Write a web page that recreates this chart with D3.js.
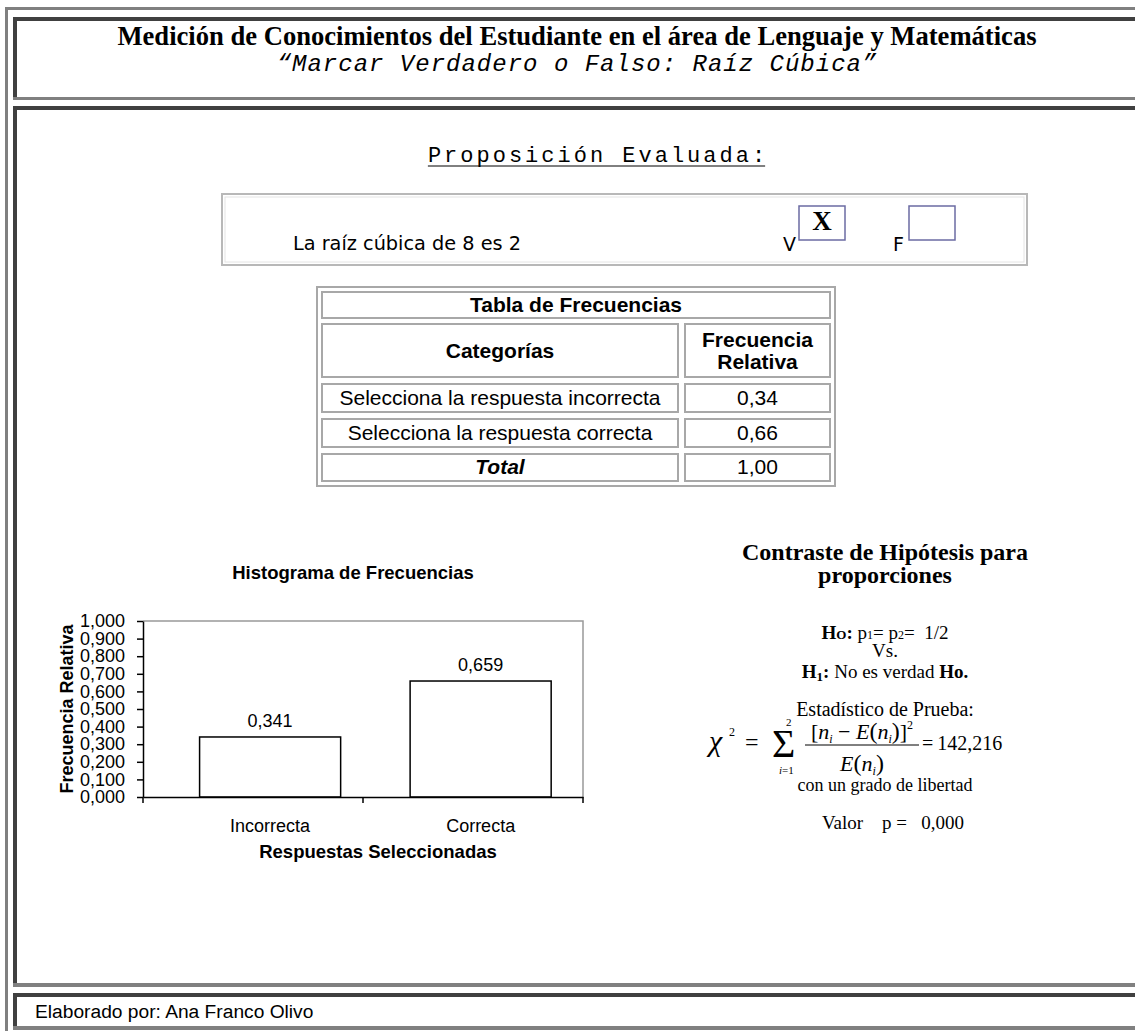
<!DOCTYPE html>
<html lang="es">
<head>
<meta charset="utf-8">
<title>Raíz Cúbica</title>
<script src="https://cdn.jsdelivr.net/npm/d3@7"></script>
<style>
  body { margin: 0; background: #fff; }
  svg { display: block; }
</style>
</head>
<body>
<svg id="page"></svg>
<script>
// datos del grafico
const categorias = ["Incorrecta", "Correcta"];
const frecuencias = [0.341, 0.659];
const yTicks = [0, 0.1, 0.2, 0.3, 0.4, 0.5, 0.6, 0.7, 0.8, 0.9, 1.0];

// tabla de frecuencias
const tablaCategorias = ["Selecciona la respuesta incorrecta", "Selecciona la respuesta correcta"];
const tablaTotal = 1.00;

// contraste
const estadistico = "142,216";
const valorP = "0,000";

const serif = "'Liberation Serif', 'Times New Roman', serif";
const sans = "'Liberation Sans', Arial, sans-serif";
const mono = "'Liberation Mono', 'Courier New', monospace";
const verdana = "'DejaVu Sans', Verdana, sans-serif";

const es = d3.formatLocale({decimal: ",", thousands: ".", grouping: [3], currency: ["", ""]});
const fmt3 = es.format(".3f");
const fmt2 = es.format(".2f");

var svgWidth = 1135;
var svgHeight = 1031;

var svg = d3.select("#page")
    .attr("width", svgWidth)
    .attr("height", svgHeight);

// ---- marcos de la pagina ----
var dark = "#404040", grey = "#808080";
function hline(x1, x2, y, w, c) {
    svg.append("rect").attr("x", x1).attr("y", y).attr("width", x2 - x1).attr("height", w).attr("fill", c);
}
function vline(x, y1, y2, w, c) {
    svg.append("rect").attr("x", x).attr("y", y1).attr("width", w).attr("height", y2 - y1).attr("fill", c);
}
hline(5, svgWidth, 7, 3, grey);
vline(5, 7, svgHeight, 3, grey);
// celda titulo
hline(13, svgWidth, 17, 4, dark);
vline(13, 17, 100, 4, dark);
hline(13, svgWidth, 97, 3, grey);
// celda principal
hline(13, svgWidth, 106, 4, dark);
vline(13, 106, 986, 4, dark);
hline(13, svgWidth, 983, 4, grey);
// celda pie
hline(13, svgWidth, 993, 4, dark);
vline(13, 993, 1030, 4, dark);
hline(13, svgWidth, 1026, 4, grey);

// ---- encabezado ----
svg.append("text")
    .attr("x", 577).attr("y", 45)
    .attr("text-anchor", "middle")
    .style("font-family", serif).style("font-weight", "bold").style("font-size", "26.6px")
    .text("Medición de Conocimientos del Estudiante en el área de Lenguaje y Matemáticas");

svg.append("text")
    .attr("x", 577).attr("y", 71)
    .attr("text-anchor", "middle")
    .style("font-family", mono).style("font-style", "italic").style("font-size", "24px")
    .style("letter-spacing", "1px")
    .text("\u201CMarcar Verdadero o Falso: Raíz Cúbica\u201D");

// ---- proposicion ----
var prop = svg.append("text")
    .attr("x", 598).attr("y", 162)
    .attr("text-anchor", "middle")
    .style("font-family", mono).style("font-size", "22px")
    .style("letter-spacing", "3px")
    .text("Proposición Evaluada:");
var pb = prop.node().getBBox();
svg.append("line")
    .attr("x1", pb.x).attr("x2", pb.x + pb.width - 3)
    .attr("y1", 166).attr("y2", 166)
    .attr("stroke", "#000").attr("stroke-width", 1);

svg.append("rect")
    .attr("x", 222).attr("y", 194).attr("width", 805).attr("height", 71)
    .attr("fill", "none").attr("stroke", "#b8b8b8").attr("stroke-width", 2);
svg.append("rect")
    .attr("x", 225).attr("y", 197).attr("width", 799).attr("height", 65)
    .attr("fill", "none").attr("stroke", "#e4e4e4").attr("stroke-width", 1);

svg.append("text")
    .attr("x", 293).attr("y", 250)
    .style("font-family", verdana).style("font-size", "19.3px")
    .text("La raíz cúbica de 8 es 2");

var opciones = [{l: "V", x: 783, marca: "X"}, {l: "F", x: 893, marca: ""}];
opciones.forEach(function(o) {
    svg.append("text")
        .attr("x", o.x).attr("y", 251)
        .style("font-family", verdana).style("font-size", "19px")
        .text(o.l);
    svg.append("rect")
        .attr("x", o.x + 16).attr("y", 206).attr("width", 46).attr("height", 34)
        .attr("fill", "none").attr("stroke", "#6b6ba3").attr("stroke-width", 1.5);
    svg.append("text")
        .attr("x", o.x + 39).attr("y", 230)
        .attr("text-anchor", "middle")
        .style("font-family", serif).style("font-weight", "bold").style("font-size", "27px")
        .text(o.marca);
});

// ---- tabla de frecuencias ----
var tx = 316, ty = 286, tw = 520, th = 201;
svg.append("rect")
    .attr("x", tx + 1).attr("y", ty + 1).attr("width", tw - 2).attr("height", th - 2)
    .attr("fill", "none").attr("stroke", "#a8a8a8").attr("stroke-width", 2);

function celda(x, y, w, h) {
    svg.append("rect")
        .attr("x", x + 1).attr("y", y + 1).attr("width", w - 2).attr("height", h - 2)
        .attr("fill", "none").attr("stroke", "#a8a8a8").attr("stroke-width", 2);
}
var c1x = 321, c1w = 358, c2x = 684, c2w = 147;
var filas = [
    {y: 291, h: 28},
    {y: 323, h: 55},
    {y: 383, h: 30},
    {y: 418, h: 30},
    {y: 453, h: 29}
];
celda(c1x, filas[0].y, c2x + c2w - c1x, filas[0].h);
for (var i = 1; i < filas.length; i++) {
    celda(c1x, filas[i].y, c1w, filas[i].h);
    celda(c2x, filas[i].y, c2w, filas[i].h);
}
function celdaTexto(x, y, t, bold, italic) {
    svg.append("text")
        .attr("x", x).attr("y", y)
        .attr("text-anchor", "middle")
        .style("font-family", sans).style("font-size", "21px")
        .style("font-weight", bold ? "bold" : "normal")
        .style("font-style", italic ? "italic" : "normal")
        .text(t);
}
var m1 = c1x + c1w / 2, m2 = c2x + c2w / 2;
celdaTexto((c1x + c2x + c2w) / 2, filas[0].y + 21, "Tabla de Frecuencias", true);
celdaTexto(m1, filas[1].y + 35, "Categorías", true);
celdaTexto(m2, filas[1].y + 24, "Frecuencia", true);
celdaTexto(m2, filas[1].y + 46, "Relativa", true);
tablaCategorias.forEach(function(c, k) {
    celdaTexto(m1, filas[2 + k].y + 22, c, false);
    celdaTexto(m2, filas[2 + k].y + 22, fmt2(frecuencias[k]), false);
});
celdaTexto(m1, filas[4].y + 21, "Total", true, true);
celdaTexto(m2, filas[4].y + 21, fmt2(tablaTotal), false);

// ---- histograma ----
var plot = {left: 143, right: 583, top: 621, bottom: 797};

var x = d3.scaleBand()
    .domain(categorias)
    .range([plot.left, plot.right])
    .paddingInner(0.33)
    .paddingOuter(0.21)
    .align(0.64);

var y = d3.scaleLinear()
    .domain([0, 1])
    .range([plot.bottom, plot.top]);

var g = svg.append("g");

g.append("text")
    .attr("x", 353).attr("y", 579)
    .attr("text-anchor", "middle")
    .style("font-family", sans).style("font-weight", "bold").style("font-size", "18.5px")
    .text("Histograma de Frecuencias");

// borde gris superior y derecho
g.append("path")
    .attr("d", "M" + plot.left + "," + plot.top + "H" + plot.right + "V" + plot.bottom)
    .attr("fill", "none").attr("stroke", "#999").attr("stroke-width", 1.5);

g.selectAll(".bar")
    .data(frecuencias)
    .enter().append("rect")
    .attr("class", "bar")
    .attr("x", function(d, i) { return x(categorias[i]); })
    .attr("y", function(d) { return y(d); })
    .attr("width", x.bandwidth())
    .attr("height", function(d) { return y(0) - y(d); })
    .attr("fill", "#fff")
    .attr("stroke", "#000")
    .attr("stroke-width", 1.5);

g.selectAll(".etq")
    .data(frecuencias)
    .enter().append("text")
    .attr("class", "etq")
    .attr("x", function(d, i) { return x(categorias[i]) + x.bandwidth() / 2; })
    .attr("y", function(d) { return y(d) - 10; })
    .attr("text-anchor", "middle")
    .style("font-family", sans).style("font-size", "18px")
    .text(function(d) { return fmt3(d); });

var yAxis = g.append("g")
    .attr("transform", "translate(" + plot.left + ",0)")
    .call(d3.axisLeft(y).tickValues(yTicks).tickFormat(fmt3).tickSize(6).tickSizeOuter(0).tickPadding(12));
yAxis.selectAll("text").style("font-family", sans).style("font-size", "18px").attr("fill", "#000");
yAxis.selectAll("line, path").attr("stroke", "#000").attr("stroke-width", 1.5);

var xAxis = g.append("g")
    .attr("transform", "translate(0," + plot.bottom + ")")
    .call(d3.axisBottom(x).tickSize(0).tickPadding(22));
xAxis.selectAll("text").style("font-family", sans).style("font-size", "18px").attr("fill", "#000");
xAxis.select(".domain").attr("stroke", "#000").attr("stroke-width", 1.5);

// marcas en los limites de cada categoria
var paso = (plot.right - plot.left) / categorias.length;
var limites = d3.range(categorias.length + 1).map(function(k) { return plot.left + k * paso; });
g.selectAll(".lim")
    .data(limites)
    .enter().append("line")
    .attr("class", "lim")
    .attr("x1", function(d) { return d; }).attr("x2", function(d) { return d; })
    .attr("y1", plot.bottom).attr("y2", plot.bottom + 6)
    .attr("stroke", "#000").attr("stroke-width", 1.5);

g.append("text")
    .attr("transform", "translate(73," + ((plot.top + plot.bottom) / 2) + ") rotate(-90)")
    .attr("text-anchor", "middle")
    .style("font-family", sans).style("font-weight", "bold").style("font-size", "18px")
    .text("Frecuencia Relativa");

g.append("text")
    .attr("x", 378).attr("y", 858)
    .attr("text-anchor", "middle")
    .style("font-family", sans).style("font-weight", "bold").style("font-size", "18.5px")
    .text("Respuestas Seleccionadas");

// ---- contraste de hipotesis ----
var hx = 885;
function serifText(yy, size) {
    return svg.append("text")
        .attr("x", hx).attr("y", yy)
        .attr("text-anchor", "middle")
        .style("font-family", serif).style("font-size", size + "px");
}
serifText(560, 24).style("font-weight", "bold").text("Contraste de Hipótesis para");
serifText(583, 24).style("font-weight", "bold").text("proporciones");

var h0 = serifText(639, 19);
h0.append("tspan").style("font-weight", "bold").text("H");
h0.append("tspan").style("font-weight", "bold").style("font-size", "13px").text("O");
h0.append("tspan").style("font-weight", "bold").text(": ");
h0.append("tspan").text("p");
h0.append("tspan").style("font-size", "12px").text("1");
h0.append("tspan").text("= p");
h0.append("tspan").style("font-size", "12px").text("2");
h0.append("tspan").text("=\u00A0 1/2");

serifText(657, 19).text("Vs.");

var h1 = serifText(678, 19);
h1.append("tspan").style("font-weight", "bold").text("H");
h1.append("tspan").style("font-weight", "bold").style("font-size", "13px").attr("dy", 3).text("1");
h1.append("tspan").style("font-weight", "bold").attr("dy", -3).text(":");
h1.append("tspan").text(" No es verdad ");
h1.append("tspan").style("font-weight", "bold").text("Ho.");

serifText(716, 20).text("Estadístico de Prueba:");

// formula chi cuadrado
var f = svg.append("g").style("font-family", serif);
f.append("text").attr("x", 709).attr("y", 751).style("font-size", "30px").style("font-style", "italic").text("\u03C7");
f.append("text").attr("x", 729).attr("y", 736).style("font-size", "12px").text("2");
f.append("text").attr("x", 745).attr("y", 750).style("font-size", "24px").text("=");
f.append("text").attr("x", 772).attr("y", 757).style("font-size", "40px").text("\u03A3");
f.append("text").attr("x", 786).attr("y", 726).style("font-size", "11px").text("2");
var lo = f.append("text").attr("x", 779).attr("y", 774).style("font-size", "11px");
lo.append("tspan").style("font-style", "italic").text("i");
lo.append("tspan").text("=1");

var num = f.append("text").attr("x", 862).attr("y", 739).attr("text-anchor", "middle").style("font-size", "22px");
num.append("tspan").text("[");
num.append("tspan").style("font-style", "italic").text("n");
num.append("tspan").style("font-style", "italic").style("font-size", "12px").attr("dy", 4).text("i");
num.append("tspan").attr("dy", -4).text(" \u2212 ");
num.append("tspan").style("font-style", "italic").text("E");
num.append("tspan").style("font-size", "24px").text("(");
num.append("tspan").style("font-style", "italic").text("n");
num.append("tspan").style("font-style", "italic").style("font-size", "12px").attr("dy", 4).text("i");
num.append("tspan").style("font-size", "24px").attr("dy", -4).text(")");
num.append("tspan").text("]");
num.append("tspan").style("font-size", "12px").attr("dy", -10).text("2");

f.append("line").attr("x1", 805).attr("x2", 919).attr("y1", 745).attr("y2", 745)
    .attr("stroke", "#000").attr("stroke-width", 1);

var den = f.append("text").attr("x", 862).attr("y", 771).attr("text-anchor", "middle").style("font-size", "22px");
den.append("tspan").style("font-style", "italic").text("E");
den.append("tspan").style("font-size", "24px").text("(");
den.append("tspan").style("font-style", "italic").text("n");
den.append("tspan").style("font-style", "italic").style("font-size", "12px").attr("dy", 4).text("i");
den.append("tspan").style("font-size", "24px").attr("dy", -4).text(")");

f.append("text").attr("x", 922).attr("y", 750).style("font-size", "20px").text("=\u2009" + estadistico);

serifText(791, 18).text("con un grado de libertad");
serifText(829, 19).attr("x", 893).text("Valor\u00A0\u00A0\u00A0 p =\u00A0\u00A0 " + valorP);

// ---- pie ----
svg.append("text")
    .attr("x", 35).attr("y", 1018)
    .style("font-family", sans).style("font-size", "19.2px")
    .text("Elaborado por: Ana Franco Olivo");
</script>
</body>
</html>
